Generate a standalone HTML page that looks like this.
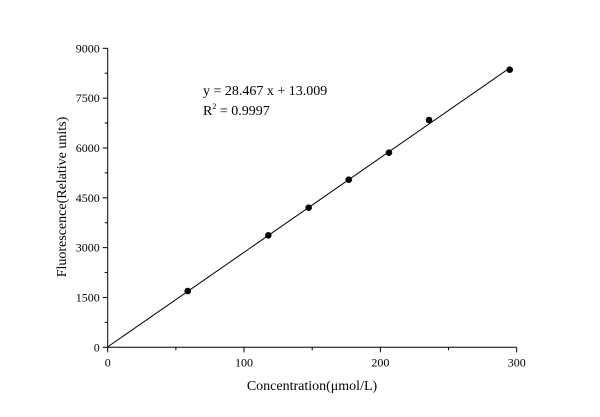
<!DOCTYPE html>
<html><head><meta charset="utf-8"><style>
html,body{margin:0;padding:0;background:#fff;}
svg{display:block;font-family:"Liberation Serif",serif;}
</style></head><body>
<svg id="chart" width="600" height="417" viewBox="0 0 600 417"></svg>
<script>
const xData = [58.7, 117.8, 147.4, 176.8, 206.3, 235.7, 294.9];
const yData = [1695, 3371, 4202, 5045, 5858, 6842, 8356];
const xTicks = [0, 100, 200, 300];
const yTicks = [0, 1500, 3000, 4500, 6000, 7500, 9000];
const slope = 28.467, intercept = 13.009;

const NS = "http://www.w3.org/2000/svg";
const svg = document.getElementById('chart');
const X0 = 107.7, X1 = 516.7, Y0 = 347.3, Y1 = 48.3;
const sx = v => X0 + (v - 0) / 300 * (X1 - X0);
const sy = v => Y0 - (v - 0) / 9000 * (Y0 - Y1);
function mk(tag, attrs, parent) {
  const e = document.createElementNS(NS, tag);
  for (const k in attrs) e.setAttribute(k, attrs[k]);
  (parent || svg).appendChild(e);
  return e;
}
const axes = mk('g', {stroke: '#000', 'stroke-width': 1});


let e = mk('line', {x1: X0, y1: Y0, x2: X1, y2: Y0}, axes);


e = mk('line', {x1: X0, y1: Y0, x2: X0, y2: Y1}, axes);



for (let v = 0; v <= 300; v += 50) {
  const major = v % 100 === 0;
  mk('line', {x1: sx(v), y1: Y0, x2: sx(v), y2: Y0 + (major ? 5 : 3)}, axes);
}
for (let v = 0; v <= 9000; v += 750) {
  const major = v % 1500 === 0;
  mk('line', {x1: X0, y1: sy(v), x2: X0 - (major ? 5 : 3), y2: sy(v)}, axes);
}
xTicks.forEach(v => {
  const t = mk('text', {x: sx(v), y: Y0 + 19, 'text-anchor': 'middle', 'font-size': 12});
  t.textContent = v;
  
  
});
yTicks.forEach(v => {
  const t = mk('text', {x: X0 - 8, y: sy(v) + 4, 'text-anchor': 'end', 'font-size': 12});
  t.textContent = v;
  
  
});
let t = mk('text', {x: 312, y: 390, 'text-anchor': 'middle', 'font-size': 14});
t.textContent = 'Concentration(\u03bcmol/L)';


t = mk('text', {x: 0, y: 0, 'text-anchor': 'middle', 'font-size': 14, transform: 'translate(66,197) rotate(-90)'});
t.textContent = 'Fluorescence(Relative units)';



const xMax = xData[xData.length - 1];
const fit = mk('line', {x1: sx(0), y1: sy(intercept), x2: sx(xMax), y2: sy(slope * xMax + intercept), stroke: '#000', 'stroke-width': 1});



xData.forEach((x, i) => {
  const c = mk('circle', {cx: sx(x), cy: sy(yData[i]), r: 3.3, fill: '#000'});
  
  
});

t = mk('text', {x: 203, y: 95, 'font-size': 14});
t.textContent = 'y = 28.467 x + 13.009';


t = mk('text', {x: 203, y: 115, 'font-size': 14});
t.innerHTML = 'R<tspan font-size="8" dy="-6">2</tspan><tspan dy="6"> = 0.9997</tspan>';


</script>
</body></html>
